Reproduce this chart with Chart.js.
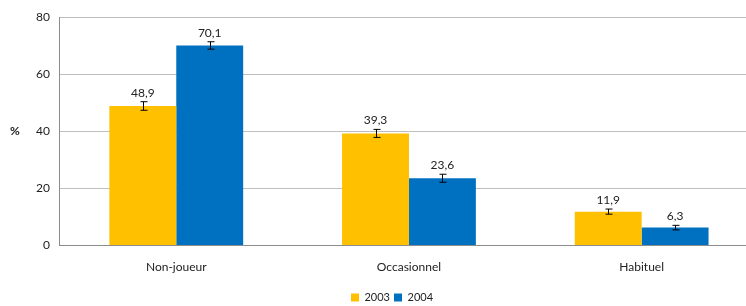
<!DOCTYPE html>
<html><head><meta charset="utf-8">
<script src="https://cdn.jsdelivr.net/npm/chart.js@4/dist/chart.umd.min.js"></script>
<style>html,body{margin:0;padding:0;background:#fff;overflow:hidden}#wrap{width:758px;height:306px}</style>
</head><body><div id="wrap"><canvas id="c"></canvas></div>
<script>
const categories = ["Non-joueur", "Occasionnel", "Habituel"];
const seriesNames = ["2003", "2004"];
const values2003 = [48.9, 39.3, 11.9];
const values2004 = [70.1, 23.6, 6.3];
const errors2003 = [1.5, 1.4, 0.9];
const errors2004 = [1.3, 1.4, 0.8];
const yTicks = [0, 20, 40, 60, 80];

const FONT = "Lato, 'Open Sans', sans-serif";
const errs = [errors2003, errors2004];

const overlay = {
  id: 'overlay',
  afterDatasetsDraw(chart) {
    const ctx = chart.ctx, y = chart.scales.y;
    ctx.save();
    chart.data.datasets.forEach((ds, di) => {
      const meta = chart.getDatasetMeta(di);
      meta.data.forEach((bar, i) => {
        const v = ds.data[i], e = errs[di][i];
        const yt = y.getPixelForValue(v + e), yb = y.getPixelForValue(v - e);
        const x = Math.round(bar.x) + 0.5;
        ctx.strokeStyle = '#000'; ctx.lineWidth = 1;
        ctx.beginPath();
        ctx.moveTo(x, yt); ctx.lineTo(x, yb);
        ctx.moveTo(x - 3, yt); ctx.lineTo(x + 4, yt);
        ctx.moveTo(x - 3, yb); ctx.lineTo(x + 4, yb);
        ctx.stroke();
        ctx.fillStyle = '#222';
        ctx.font = '12px ' + FONT;
        ctx.textAlign = 'center'; ctx.textBaseline = 'bottom';
        ctx.fillText(v.toFixed(1).replace('.', ','), bar.x, yt - 3);
      });
    });
    const ca = chart.chartArea;
    ctx.fillStyle = '#222';
    ctx.font = 'bold 12px ' + FONT;
    ctx.textAlign = 'center'; ctx.textBaseline = 'middle';
    ctx.fillText('%', 15, (ca.top + ca.bottom) / 2);
    ctx.restore();
  }
};

new Chart(document.getElementById('c'), {
  type: 'bar',
  data: {
    labels: categories,
    datasets: [
      { label: seriesNames[0], data: values2003, backgroundColor: '#FFC000' },
      { label: seriesNames[1], data: values2004, backgroundColor: '#0070C0' }
    ]
  },
  options: {
    responsive: true, maintainAspectRatio: false, animation: false,
    layout: { padding: { left: 26, right: 0, top: 13, bottom: -7 } },
    datasets: { bar: { categoryPercentage: 0.575, barPercentage: 1.0 } },
    plugins: {
      legend: {
        position: 'bottom',
        labels: { boxWidth: 8, boxHeight: 8, padding: 4, color: '#222', font: { family: FONT, size: 11 } }
      },
      tooltip: { enabled: false }
    },
    scales: {
      x: {
        grid: { display: false, drawTicks: false },
        border: { color: '#8c8c8c' },
        ticks: { color: '#222', padding: 14, font: { family: FONT, size: 12 } }
      },
      y: {
        min: 0, max: 80,
        afterBuildTicks(s) { s.ticks = yTicks.map(v => ({ value: v })); },
        grid: { color: '#bfbfbf', drawTicks: false },
        border: { color: '#8c8c8c' },
        ticks: { color: '#222', padding: 10, font: { family: FONT, size: 12 } }
      }
    }
  },
  plugins: [overlay]
});
</script></body></html>
